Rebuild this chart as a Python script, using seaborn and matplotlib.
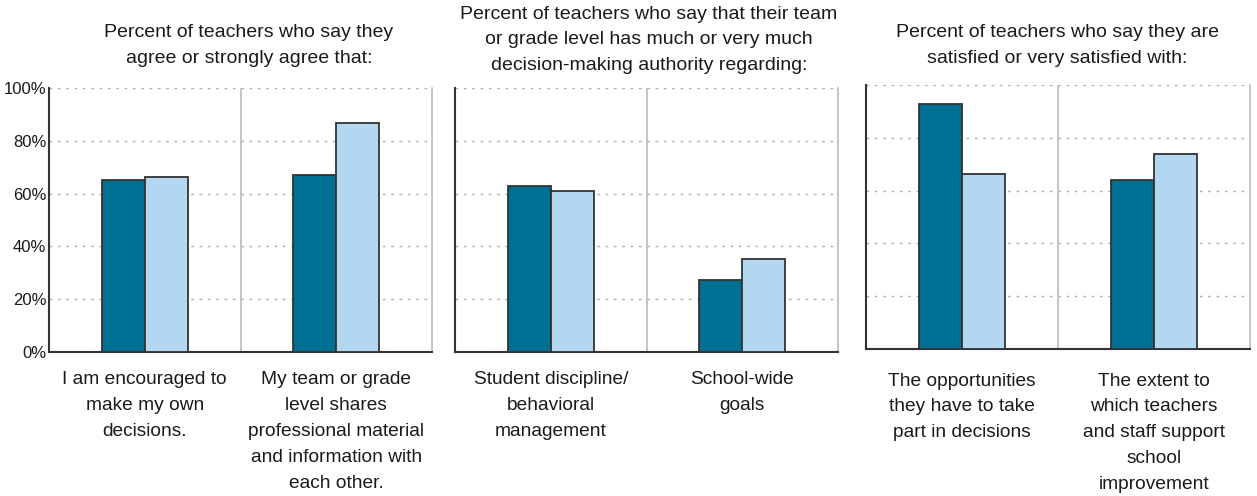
import matplotlib
matplotlib.use("Agg")
import matplotlib.pyplot as plt
import seaborn as sns
import pandas as pd

# values (percent)
series = ["Group A", "Group B"]

titles = [
    "Percent of teachers who say they\nagree or strongly agree that:",
    "Percent of teachers who say that their team\nor grade level has much or very much\ndecision-making authority regarding:",
    "Percent of teachers who say they are\nsatisfied or very satisfied with:",
]

cats_1 = [
    "I am encouraged to\nmake my own\ndecisions.",
    "My team or grade\nlevel shares\nprofessional material\nand information with\neach other.",
]
cats_2 = [
    "Student discipline/\nbehavioral\nmanagement",
    "School-wide\ngoals",
]
cats_3 = [
    "The opportunities\nthey have to take\npart in decisions",
    "The extent to\nwhich teachers\nand staff support\nschool\nimprovement",
]

group_a_1 = [65.3, 67.1]
group_b_1 = [66.4, 86.9]
group_a_2 = [62.9, 27.1]
group_b_2 = [61.1, 35.2]
group_a_3 = [92.8, 64.1]
group_b_3 = [66.3, 74.0]

yticks = [0, 20, 40, 60, 80, 100]
ytick_labels = ["0%", "20%", "40%", "60%", "80%", "100%"]

colors = ["#006f94", "#b4d7f1"]

plt.rcParams["font.family"] = ["Liberation Sans", "DejaVu Sans"]

fig = plt.figure(figsize=(12.57, 4.96), dpi=100)

W, H = 1257, 496
boxes = [
    (49, 432, 88, 352),
    (455, 838, 88, 352),
    (866, 1250, 85, 349),
]
title_x = [249, 649, 1057]
title_bottom = [56, 63, 56]
label_pad = [14, 14, 17]

panels = [
    (cats_1, group_a_1, group_b_1),
    (cats_2, group_a_2, group_b_2),
    (cats_3, group_a_3, group_b_3),
]

for i, (cats, a, b) in enumerate(panels):
    x0, x1, y0, y1 = boxes[i]
    ax = fig.add_axes([x0 / W, 1 - y1 / H, (x1 - x0) / W, (y1 - y0) / H])

    df = pd.DataFrame({
        "category": cats * 2,
        "series": [series[0]] * 2 + [series[1]] * 2,
        "value": a + b,
    })

    sns.barplot(
        data=df,
        x="category",
        y="value",
        hue="series",
        hue_order=series,
        palette=colors,
        saturation=1,
        width=0.45,
        edgecolor="#333333",
        linewidth=1.3,
        legend=False,
        ax=ax,
        zorder=3,
    )

    ax.set_xlim(-0.5, 1.5)
    ax.set_ylim(0, 100)
    ax.set_yticks(yticks)
    for y in yticks[1:]:
        ax.axhline(y, color="#b0b0b0", lw=1, ls=(0, (2, 4)), zorder=1)
    ax.axvline(0.5, color="#bbbbbb", lw=1.2, zorder=2)

    ax.set_xlabel("")
    ax.set_ylabel("")
    ax.tick_params(axis="both", length=0)
    ax.tick_params(axis="x", pad=label_pad[i], labelsize=13.8, colors="#1a1a1a")
    ax.set_xticks([0, 1])
    ax.set_xticklabels(cats)
    for lab in ax.get_xticklabels():
        lab.set_linespacing(1.68)

    if i == 0:
        ax.set_yticklabels(ytick_labels, fontsize=12, color="#1a1a1a")
        ax.tick_params(axis="y", pad=2)
    else:
        ax.set_yticklabels([])

    ax.spines["top"].set_visible(False)
    ax.spines["left"].set_color("#333333")
    ax.spines["left"].set_linewidth(1.5)
    ax.spines["bottom"].set_color("#333333")
    ax.spines["bottom"].set_linewidth(1.5)
    ax.spines["right"].set_color("#bbbbbb")
    ax.spines["right"].set_linewidth(1.2)

    fig.text(
        title_x[i] / W,
        1 - (title_bottom[i] + 11) / H,
        titles[i],
        ha="center",
        va="bottom",
        fontsize=14,
        color="#1a1a1a",
        linespacing=1.66,
    )

fig.savefig("out.png", dpi=100)
